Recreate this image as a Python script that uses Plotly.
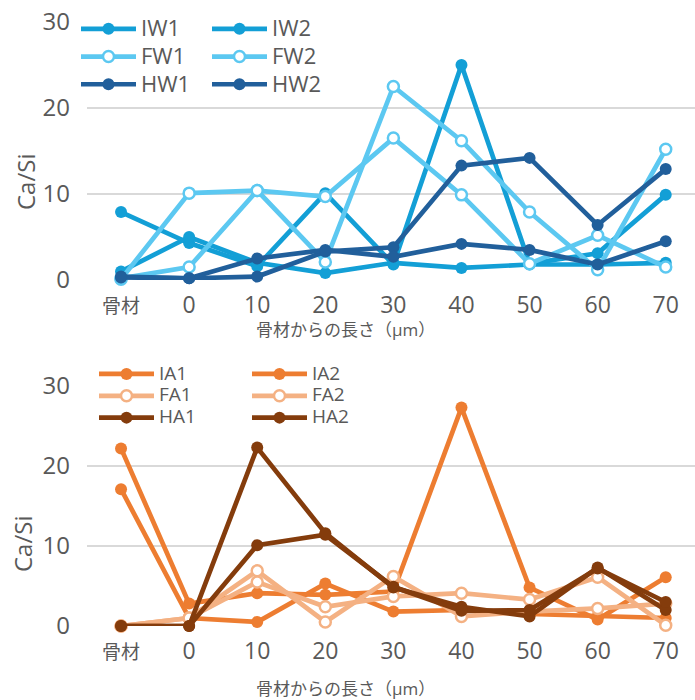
import plotly.graph_objects as go

categories = ["骨材", "0", "10", "20", "30", "40", "50", "60", "70"]

# top chart (W series)
IW1 = [7.9, 4.3, 1.6, 10.1, 1.8, 25.0, 1.9, 3.1, 9.9]
IW2 = [1.0, 5.0, 2.0, 0.8, 2.0, 1.4, 1.8, 1.8, 2.0]
FW1 = [0.1, 10.1, 10.4, 9.7, 16.5, 9.9, 1.9, 5.2, 1.5]
FW2 = [0.2, 1.5, 10.4, 2.1, 22.5, 16.2, 7.9, 1.2, 15.2]
HW1 = [0.3, 0.2, 0.4, 3.3, 3.8, 13.3, 14.2, 6.4, 12.9]
HW2 = [0.4, 0.2, 2.5, 3.5, 2.7, 4.2, 3.5, 1.8, 4.5]

# bottom chart (A series)
IA1 = [22.2, 2.8, 4.1, 3.9, 4.3, 27.3, 4.8, 0.8, 6.1]
IA2 = [17.1, 1.0, 0.5, 5.3, 1.8, 2.0, 1.5, 1.2, 1.0]
FA1 = [0.0, 1.0, 6.9, 0.5, 6.2, 1.2, 1.8, 2.2, 2.8]
FA2 = [0.0, 1.0, 5.5, 2.4, 3.7, 4.1, 3.3, 6.1, 0.1]
HA1 = [0.0, 0.0, 22.3, 11.6, 4.8, 2.4, 1.2, 7.3, 2.0]
HA2 = [0.0, 0.0, 10.1, 11.4, 4.9, 1.9, 2.0, 7.2, 3.0]

y_ticks = [0, 10, 20, 30]
x_title = "骨材からの長さ（μm）"
y_title = "Ca/Si"

C_MID = "#139FD6"
C_LIGHT = "#5CC8F1"
C_DARK = "#215F9B"
C_OR = "#ED7D31"
C_LOR = "#F4B183"
C_BR = "#843C0C"

FONT = "Open Sans, Noto Sans CJK JP, sans-serif"
GRAY = "#595959"
W, H = 695, 700

fig = go.Figure()

def add(name, vals, color, hollow, xa, ya, legend, fs):
    marker = dict(size=12, color=color)
    if hollow:
        marker = dict(size=11, color="white", line=dict(color=color, width=2.5))
    fig.add_trace(go.Scatter(
        x=categories, y=vals, name=f'<span style="font-size:{fs}px">{name}</span>',
        mode="lines+markers",
        line=dict(color=color, width=4.7), marker=marker,
        xaxis=xa, yaxis=ya, legend=legend, cliponaxis=False))

add("IW1", IW1, C_MID, False, "x", "y", "legend", 22)
add("IW2", IW2, C_MID, False, "x", "y", "legend2", 22)
add("FW1", FW1, C_LIGHT, True, "x", "y", "legend", 22)
add("FW2", FW2, C_LIGHT, True, "x", "y", "legend2", 22)
add("HW1", HW1, C_DARK, False, "x", "y", "legend", 22)
add("HW2", HW2, C_DARK, False, "x", "y", "legend2", 22)

add("IA1", IA1, C_OR, False, "x2", "y2", "legend3", 19)
add("IA2", IA2, C_OR, False, "x2", "y2", "legend4", 19)
add("FA1", FA1, C_LOR, True, "x2", "y2", "legend3", 19)
add("FA2", FA2, C_LOR, True, "x2", "y2", "legend4", 19)
add("HA1", HA1, C_BR, False, "x2", "y2", "legend3", 19)
add("HA2", HA2, C_BR, False, "x2", "y2", "legend4", 19)

tick_text = ['<span style="font-size:19px">骨材</span>'] + categories[1:]

xdom = [87 / W, 1.0]
xrange_ = [-0.5, 8.43]
xaxis_common = dict(
    type="category", range=xrange_, domain=xdom, showgrid=False,
    showline=False, zeroline=False, ticks="", ticklabelstandoff=9,
    tickvals=categories, ticktext=tick_text,
    tickfont=dict(family=FONT, size=23, color=GRAY), automargin=False)
yaxis_common = dict(
    range=[0, 30], tickvals=y_ticks, showgrid=True, gridcolor="#D9D9D9",
    gridwidth=1.5, zeroline=False, showline=False, ticks="",
    ticklabelstandoff=16, tickfont=dict(family=FONT, size=24, color=GRAY),
    automargin=False)

def leg(x_px, y_px, size):
    return dict(x=x_px / W, y=1 - y_px / H, xanchor="left", yanchor="top",
                bgcolor="white", borderwidth=0, itemwidth=55,
                font=dict(family=FONT, size=size, color=GRAY),
                tracegroupgap=0, itemclick=False)

fig.update_layout(
    width=W, height=H, margin=dict(l=0, r=0, t=0, b=0),
    paper_bgcolor="white", plot_bgcolor="white", showlegend=True,
    xaxis=dict(xaxis_common, anchor="y"),
    yaxis=dict(yaxis_common, domain=[1 - 280 / H, 1 - 22 / H], anchor="x"),
    xaxis2=dict(xaxis_common, anchor="y2"),
    yaxis2=dict(yaxis_common, domain=[1 - 626 / H, 1 - 386 / H], anchor="x2"),
    legend=leg(76, 10, 19),
    legend2=leg(207, 10, 19),
    legend3=leg(94, 358, 14.5),
    legend4=leg(247, 358, 14.5),
)

ann = dict(showarrow=False, font=dict(family=FONT, size=17, color=GRAY),
           xref="paper", yref="paper")
fig.add_annotation(ann, text=x_title, x=345 / W, y=1 - 329 / H,
                   xanchor="center", yanchor="middle")
fig.add_annotation(ann, text=x_title, x=345 / W, y=1 - 688 / H,
                   xanchor="center", yanchor="middle")
fig.add_annotation(ann, text=y_title, x=25 / W, y=1 - 182 / H, textangle=-90,
                   xanchor="center", yanchor="middle",
                   font=dict(family=FONT, size=24, color=GRAY))
fig.add_annotation(ann, text=y_title, x=22 / W, y=1 - 544 / H, textangle=-90,
                   xanchor="center", yanchor="middle",
                   font=dict(family=FONT, size=24, color=GRAY))

fig.write_html("out.html", config={"displayModeBar": False},
               post_script="document.body.style.margin='0';")
